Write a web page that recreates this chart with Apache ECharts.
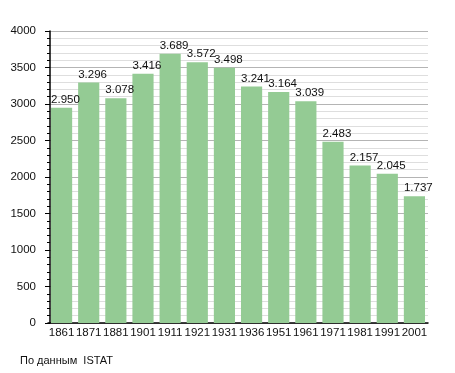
<!DOCTYPE html>
<html>
<head>
<meta charset="utf-8">
<script src="https://cdn.jsdelivr.net/npm/echarts@6/dist/echarts.min.js"></script>
<style>
html,body{margin:0;padding:0;background:#fff;}
#chart{width:455px;height:373px;}
</style>
</head>
<body>
<div id="chart"></div>
<script>
const years = ['1861','1871','1881','1901','1911','1921','1931','1936','1951','1961','1971','1981','1991','2001'];
const population = [2950,3296,3078,3416,3689,3572,3498,3241,3164,3039,2483,2157,2045,1737];
const yTicks = [0,500,1000,1500,2000,2500,3000,3500,4000];
const sourceNote = 'По данным  ISTAT';

const FONT = '"Liberation Sans Narrow", "Liberation Sans", Arial, sans-serif';
const chart = echarts.init(document.getElementById('chart'));
chart.setOption({
  animation: false,
  backgroundColor: '#fff',
  textStyle: {fontFamily: FONT},
  grid: {left: 48, right: 27, top: 31, bottom: 50, containLabel: false},
  graphic: [{
    type: 'text', left: 20, top: 355,
    style: {text: sourceNote, fontSize: 11, fontFamily: '"Liberation Sans", Arial, sans-serif', fill: '#111'}
  }],
  xAxis: {
    type: 'category',
    data: years,
    axisLine: {show: true, lineStyle: {color: '#000', width: 1.5}},
    axisTick: {show: false},
    axisLabel: {color: '#111', fontSize: 11.5, margin: 4, fontFamily: FONT, interval: 0}
  },
  yAxis: {
    type: 'value',
    min: yTicks[0], max: yTicks[yTicks.length - 1], interval: 500,
    offset: -2,
    axisLine: {show: true, lineStyle: {color: '#000', width: 1.5}},
    axisTick: {show: true, length: 5, lineStyle: {color: '#000'}},
    minorTick: {show: true, splitNumber: 5, length: 3, lineStyle: {color: '#000'}},
    axisLabel: {color: '#111', fontSize: 11.5, margin: 14, fontFamily: FONT, formatter: v => String(v)},
    splitLine: {show: true, lineStyle: {color: '#b4b4b4', width: 1}},
    minorSplitLine: {show: true, lineStyle: {color: '#dedede', width: 1}}
  },
  series: [{
    type: 'bar',
    data: population,
    barCategoryGap: '22%',
    itemStyle: {color: '#94cb94'},
    label: {
      show: true, position: 'top', distance: 2,
      align: 'left', offset: [-10.5, 0],
      color: '#111', fontSize: 11.5, fontFamily: FONT,
      formatter: p => String(p.value).replace(/\B(?=(\d{3})+(?!\d))/g, '.')
    }
  }]
});
</script>
</body>
</html>
